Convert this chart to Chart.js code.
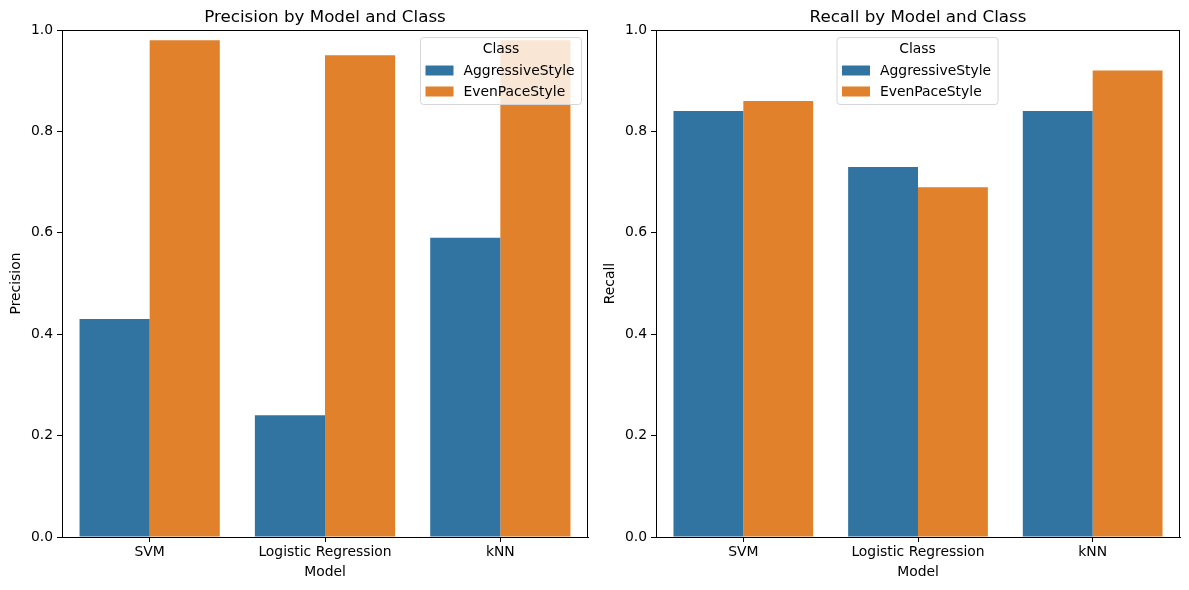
<!DOCTYPE html>
<html lang="en">
<head>
    <meta charset="UTF-8">
    <title>Precision and Recall by Model and Class</title>
    <script src="https://cdn.jsdelivr.net/npm/chart.js"></script>
    <style>
        body {
            margin: 0;
            background: #ffffff;
            font-family: 'DejaVu Sans', sans-serif;
        }
        .panel {
            position: absolute;
            top: 0;
            height: 590px;
        }
        #leftPanel { left: 0; width: 594px; }
        #rightPanel { left: 594px; width: 595px; }
    </style>
</head>
<body>
    <div class="panel" id="leftPanel"><canvas id="precisionChart"></canvas></div>
    <div class="panel" id="rightPanel"><canvas id="recallChart"></canvas></div>

    <script>
        const models = ['SVM', 'Logistic Regression', 'kNN'];
        const classes = ['AggressiveStyle', 'EvenPaceStyle'];
        const precisionAggressive = [0.43, 0.24, 0.59];
        const precisionEvenPace = [0.98, 0.95, 0.98];
        const recallAggressive = [0.84, 0.73, 0.84];
        const recallEvenPace = [0.86, 0.69, 0.92];
        const yTicks = [0.0, 0.2, 0.4, 0.6, 0.8, 1.0];

        const colors = ['#3274a1', '#e1812c'];
        const FONT = "'DejaVu Sans', sans-serif";

        // frame, titles and the matplotlib-style legend drawn over the bars
        const decorPlugin = {
            id: 'decor',
            afterDraw(chart, args, opts) {
                const ctx = chart.ctx;
                const a = chart.chartArea;
                ctx.save();
                ctx.strokeStyle = '#000';
                ctx.lineWidth = 1;
                ctx.strokeRect(a.left + 0.5, a.top + 0.5, a.right - a.left - 1, a.bottom - a.top);

                ctx.fillStyle = '#000';
                ctx.textAlign = 'center';
                ctx.textBaseline = 'alphabetic';
                ctx.font = '16.7px ' + FONT;
                ctx.fillText(opts.title, (a.left + a.right) / 2, 22);

                ctx.font = '13.9px ' + FONT;
                ctx.textBaseline = 'middle';
                ctx.fillText('Model', (a.left + a.right) / 2, 572);
                ctx.save();
                ctx.translate(16, (a.top + a.bottom) / 2);
                ctx.rotate(-Math.PI / 2);
                ctx.fillText(opts.yTitle, 0, 0);
                ctx.restore();

                // legend box
                const w = 161, h = 67;
                const x = opts.legendX, y = 37.5;
                ctx.beginPath();
                ctx.roundRect(x, y, w, h, 3);
                ctx.fillStyle = 'rgba(255,255,255,0.8)';
                ctx.fill();
                ctx.strokeStyle = '#d6d6d6';
                ctx.stroke();

                ctx.fillStyle = '#000';
                ctx.textAlign = 'center';
                ctx.fillText('Class', x + w / 2, 49.5);
                ctx.textAlign = 'left';
                chart.data.datasets.forEach((ds, i) => {
                    const cy = 70.5 + i * 21;
                    ctx.fillStyle = ds.backgroundColor;
                    ctx.fillRect(x + 5, cy - 5, 28, 10);
                    ctx.fillStyle = '#000';
                    ctx.fillText(ds.label, x + 43, cy + 1);
                });
                ctx.restore();
            }
        };

        function makeChart(canvasId, seriesA, seriesB, title, yTitle, padRight, legendX) {
            return new Chart(document.getElementById(canvasId), {
                type: 'bar',
                data: {
                    labels: models,
                    datasets: [
                        { label: classes[0], data: seriesA, backgroundColor: colors[0] },
                        { label: classes[1], data: seriesB, backgroundColor: colors[1] }
                    ]
                },
                options: {
                    responsive: true,
                    maintainAspectRatio: false,
                    animation: false,
                    events: [],
                    categoryPercentage: 0.8,
                    barPercentage: 1.0,
                    layout: { padding: { left: 0, top: 30, right: padRight, bottom: 0 } },
                    plugins: {
                        legend: { display: false },
                        title: { display: false },
                        tooltip: { enabled: false },
                        decor: { title: title, yTitle: yTitle, legendX: legendX }
                    },
                    scales: {
                        x: {
                            offset: true,
                            grid: { display: true, offset: false, drawOnChartArea: false, drawTicks: true, tickLength: 5, color: '#000' },
                            border: { display: true, color: '#000' },
                            ticks: { color: '#000', font: { family: FONT, size: 13.9 }, padding: 2, maxRotation: 0 },
                            afterFit(scale) { scale.height = 53; }
                        },
                        y: {
                            min: 0,
                            max: 1,
                            afterBuildTicks(scale) { scale.ticks = yTicks.map(v => ({ value: v })); },
                            grid: { display: true, drawOnChartArea: false, drawTicks: true, tickLength: 5, color: '#000' },
                            border: { display: true, color: '#000' },
                            ticks: {
                                color: '#000',
                                font: { family: FONT, size: 13.9 },
                                padding: 4,
                                callback: v => Number(v).toFixed(1)
                            },
                            afterFit(scale) { scale.width = 62; }
                        }
                    }
                },
                plugins: [decorPlugin]
            });
        }

        makeChart('precisionChart', precisionAggressive, precisionEvenPace,
            'Precision by Model and Class', 'Precision', 6, 420.5);
        makeChart('recallChart', recallAggressive, recallEvenPace,
            'Recall by Model and Class', 'Recall', 9, 243);
    </script>
</body>
</html>
